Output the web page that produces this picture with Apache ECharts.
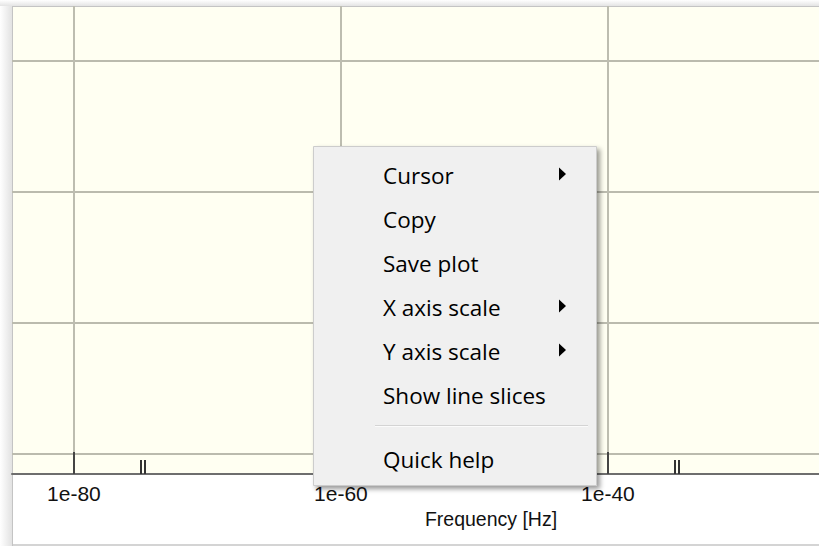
<!DOCTYPE html>
<html>
<head>
<meta charset="utf-8">
<script src="https://cdn.jsdelivr.net/npm/echarts@6/dist/echarts.min.js"></script>
<style>html,body{margin:0;padding:0;background:#fff;}#chart{width:819px;height:546px;}</style>
</head>
<body>
<div id="chart"></div>
<script>
// ---- data (x values are log10 of frequency in Hz) ----
const xRange = [-84.64, -12.88];
const xMajorTicks = [-80, -60, -40];
const xMinorTicks = [-75, -74.7, -55, -54.7, -35, -34.7];
const yRange = [-0.153, 3.42];
const yGridValues = [0, 1, 2, 3];
const xAxisName = 'Frequency [Hz]';
const seriesData = [];
const menuItems = ['Cursor', 'Copy', 'Save plot', 'X axis scale', 'Y axis scale', 'Show line slices', 'Quick help'];
const menuHasSubmenu = [true, false, false, true, true, false, false];

// ---- build ----
const chart = echarts.init(document.getElementById('chart'), null, {renderer: 'svg'});

const graphics = [];
// outer shadow of widget
graphics.push({type: 'rect', z: -20, shape: {x: 0, y: 0, width: 12, height: 546},
  style: {fill: new echarts.graphic.LinearGradient(0, 0, 1, 0, [{offset: 0, color: '#ffffff'}, {offset: 1, color: '#e2e2e2'}])}});
graphics.push({type: 'rect', z: -20, shape: {x: 0, y: 0, width: 819, height: 6},
  style: {fill: new echarts.graphic.LinearGradient(0, 0, 0, 1, [{offset: 0, color: '#ffffff'}, {offset: 1, color: '#e4e4e4'}])}});
// widget frame
graphics.push({type: 'rect', z: -15, shape: {x: 12.5, y: 6.5, width: 830, height: 538.5},
  style: {fill: '#ffffff', stroke: '#a9a9a9', lineWidth: 1}});
// plot background
graphics.push({type: 'rect', z: -14, shape: {x: 13, y: 7, width: 830, height: 467},
  style: {fill: '#fffff2'}});
graphics.push({type: 'line', z: -13, shape: {x1: 12.5, y1: 6, x2: 12.5, y2: 546}, style: {stroke: '#c4c4c4', lineWidth: 1}});
graphics.push({type: 'line', z: -13, shape: {x1: 12, y1: 6.5, x2: 819, y2: 6.5}, style: {stroke: '#c4c4c4', lineWidth: 1}});

// context menu
graphics.push({type: 'rect', z: 100, shape: {x: 313.5, y: 146.5, width: 283, height: 339},
  style: {fill: '#f0f0f0', stroke: '#cccccc', lineWidth: 1,
    shadowBlur: 5, shadowOffsetX: 3, shadowOffsetY: 3, shadowColor: 'rgba(0,0,0,0.4)'}});
menuItems.forEach(function (label, i) {
  const cy = i < 6 ? 175.5 + 44 * i : 459;
  graphics.push({type: 'text', z: 101, style: {text: label, x: 383, y: cy,
    font: '22.5px "Open Sans"', fill: '#000000', verticalAlign: 'middle', textAlign: 'left'}});
  if (menuHasSubmenu[i]) {
    graphics.push({type: 'polygon', z: 101, shape: {points: [[559, cy - 8], [559, cy + 5], [566, cy - 1.5]]},
      style: {fill: '#000000'}});
  }
});
graphics.push({type: 'line', z: 101, shape: {x1: 375, y1: 425.5, x2: 588, y2: 425.5}, style: {stroke: '#d4d4d4', lineWidth: 1}});
graphics.push({type: 'line', z: 101, shape: {x1: 375, y1: 426.5, x2: 588, y2: 426.5}, style: {stroke: '#fbfbfb', lineWidth: 1}});

const option = {
  animation: false,
  backgroundColor: '#ffffff',
  grid: {left: 12, top: 6, width: 958, height: 468, show: false, containLabel: false, outerBoundsMode: 'none'},
  xAxis: [{
    type: 'value', position: 'bottom', min: xRange[0], max: xRange[1],
    name: xAxisName, nameLocation: 'middle', nameGap: 34,
    nameTextStyle: {fontFamily: 'Liberation Sans', fontSize: 19.5, color: '#111'},
    axisLine: {show: true, onZero: false, lineStyle: {color: '#6e6e6e', width: 2}},
    axisTick: {show: true, inside: true, length: 22, customValues: xMajorTicks, lineStyle: {color: '#444', width: 2}},
    axisLabel: {show: true, customValues: xMajorTicks, margin: 9, fontFamily: 'Liberation Sans', fontSize: 21, color: '#111',
      formatter: function (v) { return '1e' + v; }},
    splitLine: {show: true, lineStyle: {color: '#bdbdb0', width: 2}}
  }, {
    type: 'value', position: 'bottom', min: xRange[0], max: xRange[1],
    axisLine: {show: false, onZero: false},
    axisTick: {show: true, inside: true, length: 14, customValues: xMinorTicks, lineStyle: {color: '#333', width: 2}},
    axisLabel: {show: false},
    splitLine: {show: false}
  }],
  yAxis: {
    type: 'value', min: yRange[0], max: yRange[1],
    axisLine: {show: false},
    axisTick: {show: false, customValues: yGridValues},
    axisLabel: {show: false, customValues: yGridValues},
    splitLine: {show: true, lineStyle: {color: '#bbbbae', width: 2}}
  },
  series: [{type: 'line', data: seriesData, xAxisIndex: 0, symbol: 'none'}],
  graphic: graphics
};
chart.setOption(option);
</script>
</body>
</html>
